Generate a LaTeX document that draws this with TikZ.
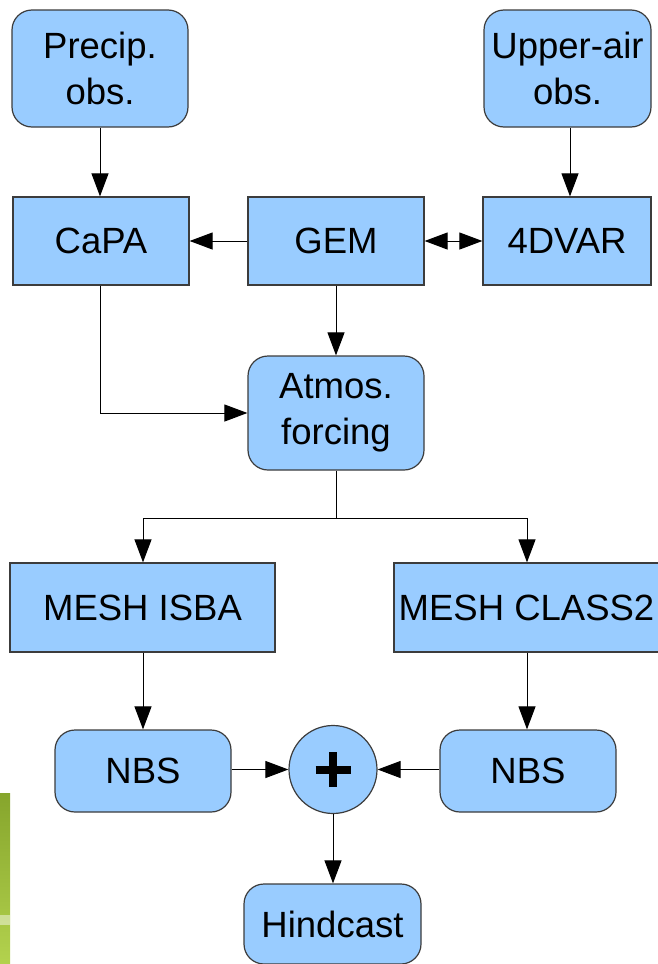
\documentclass[tikz,border=0pt]{standalone}
\usepackage{fontspec}
\setmainfont{Liberation Sans}
\usetikzlibrary{arrows.meta}
\definecolor{boxblue}{HTML}{99CCFF}
\definecolor{boxline}{HTML}{3C3C3C}
\definecolor{leafA}{HTML}{86A52C}
\definecolor{leafB}{HTML}{B3D24E}
\tikzset{
  blk/.style={draw=boxline, line width=1.2pt, fill=boxblue, inner sep=0pt,
    align=center, font=\fontsize{36.5}{46}\selectfont},
  sqbox/.style={blk, rectangle},
  rbox/.style={blk, rectangle, rounded corners=20pt},
  link/.style={draw=black, line width=1pt, -{Triangle[length=23pt,width=17pt]}},
  plain/.style={draw=black, line width=1pt}
}
\begin{document}
\begin{tikzpicture}[x=1pt,y=-1pt]
\useasboundingbox (0,0) rectangle (658,964);
\begin{scope}
\clip (0,0) rectangle (658,964);
% green strip along the lower left edge
\shade[top color=leafA, bottom color=leafB] (0,793) rectangle (10,964);
\fill[white, opacity=0.45] (0,915) rectangle (10,925);

% source boxes
\node[rbox, minimum width=176pt, minimum height=117pt] (precip) at (100,68.5) {Precip.\\obs.};
\node[rbox, minimum width=167pt, minimum height=117pt] (upper) at (567.5,68.5) {Upper-air\\obs.};

% model row
\node[sqbox, minimum width=176pt, minimum height=88pt] (capa) at (101,241) {CaPA};
\node[sqbox, minimum width=176pt, minimum height=88pt] (gem) at (336,241) {GEM};
\node[sqbox, minimum width=168pt, minimum height=88pt] (var) at (567,241) {4DVAR};

% forcing
\node[rbox, minimum width=176pt, minimum height=114pt] (atmos) at (336,413) {Atmos.\\forcing};

% land surface models
\node[sqbox, minimum width=265pt, minimum height=89pt] (isba) at (142.5,607.5) {MESH ISBA};
\node[sqbox, minimum width=265pt, minimum height=89pt] (class) at (526.5,607.5) {MESH CLASS2};

% NBS and the summing junction with its bold plus sign
\node[rbox, minimum width=176pt, minimum height=82pt] (nbsl) at (143,771) {NBS};
\node[rbox, minimum width=176pt, minimum height=82pt] (nbsr) at (528,771) {NBS};
\node[blk, circle, minimum size=88pt,
  path picture={
    \draw[black, line width=8pt]
      ([xshift=-17.5pt]path picture bounding box.center) -- ++(35,0)
      ([yshift=17.5pt]path picture bounding box.center) -- ++(0,35);
  }] (sum) at (333,769.5) {};

% output
\node[rbox, minimum width=177pt, minimum height=80pt] (hind) at (332.5,924) {Hindcast};

% connectors
\coordinate (pc) at (100,127);
\draw[link] (precip.south -| pc) -- (capa.north -| pc);
\coordinate (uc) at (570,127);
\draw[link] (upper.south -| uc) -- (var.north -| uc);
\draw[link] (gem.west) -- (capa.east);
\draw[line width=1pt, {Triangle[length=23pt,width=17pt]}-{Triangle[length=23pt,width=17pt]}] (gem.east) -- (var.west);
\draw[link] (gem.south) -- (atmos.north);
\draw[link] (capa.south -| pc) |- (atmos.west);

\coordinate (split) at (336,518);
\coordinate (lx) at (143,518);
\coordinate (rx) at (527,518);
\draw[plain] (atmos.south) -- (split);
\draw[link] (split) -- (lx) -- (isba.north -| lx);
\draw[link] (split) -- (rx) -- (class.north -| rx);
\draw[link] (isba.south -| lx) -- (nbsl.north -| lx);
\draw[link] (class.south -| rx) -- (nbsr.north -| rx);
\draw[link] (nbsl.east |- sum) -- (sum.west);
\draw[link] (nbsr.west |- sum) -- (sum.east);
\draw[link] (sum.south) -- (hind.north -| sum);
\end{scope}
\end{tikzpicture}
\end{document}
